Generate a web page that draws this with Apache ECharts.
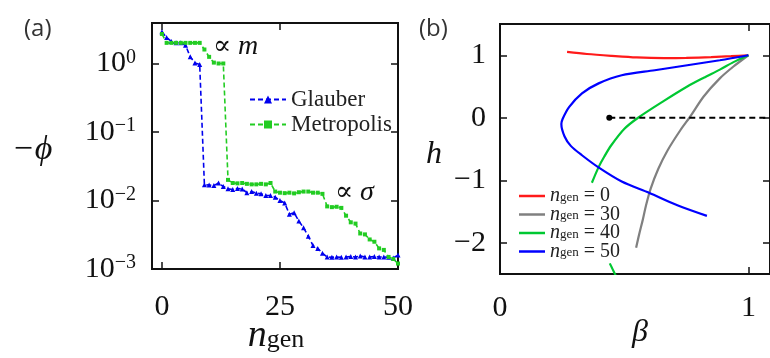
<!DOCTYPE html>
<html>
<head>
<meta charset="utf-8">
<script src="https://cdn.jsdelivr.net/npm/echarts@6/dist/echarts.min.js"></script>
<style>
  html, body { margin: 0; padding: 0; background: #fff; }
  #chart { width: 770px; height: 358px; }
</style>
</head>
<body>
<div id="chart"></div>
<script>
const SERIF = '"Liberation Serif", "DejaVu Serif", serif';
const SANS = '"Open Sans", "Noto Sans", sans-serif';
const INK = '#111';

// ---- panel (a): -phi against n_gen (log axis) ----
const nGen = [0, 1, 2, 3, 4, 5, 6, 7, 8, 9, 10, 11, 12, 13, 14, 15, 16, 17, 18, 19, 20,
  21, 22, 23, 24, 25, 26, 27, 28, 29, 30, 31, 32, 33, 34, 35, 36, 37, 38, 39, 40,
  41, 42, 43, 44, 45, 46, 47, 48, 49, 50];
const glauber = [2.9, 2.4, 2.1, 2.0, 2.0, 1.85, 1.25, 1.02, 0.97, 0.017,
  0.0168, 0.0165, 0.018, 0.016, 0.0148, 0.0145, 0.015, 0.0147, 0.013, 0.0135,
  0.0128, 0.0125, 0.0118, 0.0118, 0.0112, 0.0100, 0.0092, 0.0063, 0.0066, 0.0050,
  0.0040, 0.0030, 0.0022, 0.0020, 0.0017, 0.0015, 0.00148, 0.0015, 0.00148, 0.0015,
  0.00152, 0.0015, 0.00155, 0.0015, 0.0015, 0.00152, 0.0015, 0.0015, 0.00148, 0.00145,
  0.0016];
const metropolis = [2.7, 2.0, 2.0, 2.0, 2.0, 2.0, 2.0, 2.0, 2.0, 1.6,
  1.25, 1.03, 1.0, 1.0, 0.020, 0.018, 0.0178, 0.018, 0.0175, 0.0172,
  0.0172, 0.0175, 0.0172, 0.018, 0.0135, 0.013, 0.0128, 0.013, 0.0127, 0.0132,
  0.0135, 0.0135, 0.013, 0.013, 0.0125, 0.0082, 0.008, 0.0081, 0.0078, 0.0060,
  0.0048, 0.0046, 0.0033, 0.0032, 0.0027, 0.0025, 0.0020, 0.0019, 0.0015, 0.0014,
  0.0012];
const phiTicks = [0.001, 0.01, 0.1, 1];
const nTicks = [0, 25, 50];

// ---- panel (b): h against beta, one curve per n_gen ----
const curveN0 = [[0.27, 1.055], [0.35, 1.02], [0.45, 0.99], [0.55, 0.965], [0.66, 0.955],
  [0.75, 0.958], [0.85, 0.97], [0.93, 0.985], [1.0, 1.0]];
const curveN30 = [[1.0, 1.0], [0.94, 0.82], [0.885, 0.63], [0.82, 0.34], [0.766, 0.02],
  [0.726, -0.2], [0.675, -0.52], [0.637, -0.82], [0.607, -1.13], [0.588, -1.4],
  [0.575, -1.63], [0.56, -1.87], [0.548, -2.08]];
const curveN40 = [[1.0, 1.0], [0.94, 0.89], [0.885, 0.77], [0.82, 0.64], [0.754, 0.5],
  [0.66, 0.27], [0.556, 0.0], [0.5, -0.18], [0.448, -0.44], [0.42, -0.62],
  [0.397, -0.79], [0.37, -1.04]];
const curveN40low = [[0.442, -2.33], [0.47, -2.56]];
const curveN50 = [[1.0, 1.0], [0.885, 0.92], [0.754, 0.84], [0.623, 0.76], [0.49, 0.68],
  [0.397, 0.55], [0.33, 0.39], [0.278, 0.17], [0.252, -0.02], [0.247, -0.1],
  [0.26, -0.3], [0.285, -0.45], [0.33, -0.6], [0.395, -0.79], [0.49, -1.02],
  [0.6, -1.2], [0.714, -1.4], [0.833, -1.57]];
const zeroLine = [[0.44, 0.0], [1.2, 0.0]];
const hTicks = [-2, -1, 0, 1];
const betaTicks = [0, 1];

const legendB = { 'ngen0': '0', 'ngen30': '30', 'ngen40': '40', 'ngen50': '50' };

function supLabel(v) {
  const e = Math.round(Math.log10(v));
  return '{b|10}{s|' + (e < 0 ? '\u2212' + (-e) : e) + '}';
}

const tickLabel = { fontFamily: SERIF, fontSize: 30, color: INK };

function frameAxes(gridIndex, min, max, ticks, dim, logType) {
  // main axis with labels and its mirror (ticks only)
  const base = {
    gridIndex, min, max,
    type: logType ? 'log' : 'value',
    axisLine: { show: false, onZero: false },
    splitLine: { show: false },
    axisTick: { inside: true, length: 7, lineStyle: { color: INK, width: 1.5 }, customValues: ticks },
  };
  const mirror = Object.assign({}, base, {
    position: dim === 'x' ? 'top' : 'right',
    axisLabel: { show: false },
  });
  return [base, mirror];
}

const [xa, xaTop] = frameAxes(0, -2.1, 50, nTicks, 'x');
xa.axisLabel = Object.assign({ customValues: nTicks, margin: 23 }, tickLabel);
const [ya, yaRight] = frameAxes(0, 0.001, 3.9, phiTicks, 'y', true);
ya.axisLabel = {
  customValues: phiTicks, margin: 16, formatter: supLabel,
  rich: {
    b: Object.assign({ lineHeight: 32 }, tickLabel),
    s: { fontFamily: SERIF, fontSize: 20, lineHeight: 18, color: INK, verticalAlign: 'top' },
  },
};
const [xb, xbTop] = frameAxes(1, 0, 1.087, betaTicks, 'x');
xb.axisLabel = Object.assign({ customValues: betaTicks, margin: 19 }, tickLabel);
const [yb, ybRight] = frameAxes(1, -2.5, 1.5, hTicks, 'y');
yb.axisLabel = Object.assign({ customValues: hTicks, margin: 14,
  formatter: v => (v < 0 ? '\u2212' + (-v) : String(v)) }, tickLabel);

function dashed(name, values, color, symbol, size) {
  return {
    name, type: 'line', xAxisIndex: 0, yAxisIndex: 0,
    data: nGen.map((n, i) => [n, values[i]]),
    symbol, symbolSize: size, showSymbol: true,
    color,
    itemStyle: { color },
    lineStyle: { color, width: 1.6, type: [5, 3] },
  };
}

function curve(name, data, color) {
  return {
    name, type: 'line', xAxisIndex: 2, yAxisIndex: 2,
    data, smooth: 0.3, showSymbol: false, symbol: 'none',
    color, lineStyle: { color, width: 2.2 },
  };
}

const option = {
  animation: false,
  backgroundColor: '#fff',
  grid: [
    { left: 152, top: 23, width: 246, height: 246, show: true, borderColor: INK, borderWidth: 2, backgroundColor: 'transparent' },
    { left: 500, top: 24, width: 274, height: 250, show: true, borderColor: INK, borderWidth: 2, backgroundColor: 'transparent' },
  ],
  xAxis: [xa, xaTop, xb, xbTop],
  yAxis: [ya, yaRight, yb, ybRight],
  legend: [
    {
      data: ['Glauber', 'Metropolis'],
      orient: 'vertical', left: 244, top: 83,
      itemWidth: 36, itemHeight: 10, itemGap: 2, itemTextGap: 3,
      textStyle: { fontFamily: SERIF, fontSize: 23, color: '#222', lineHeight: 20 },
    },
    {
      data: ['ngen0', 'ngen30', 'ngen40', 'ngen50'],
      orient: 'vertical', left: 514, top: 181,
      icon: 'rect', itemWidth: 26, itemHeight: 2.5, itemGap: -1.5, itemTextGap: 3,
      formatter: name => '{i|n}{s|gen}{t| = ' + legendB[name] + '}',
      textStyle: {
        color: '#222',
        rich: {
          i: { fontFamily: SERIF, fontStyle: 'italic', fontSize: 20, lineHeight: 16, color: '#222' },
          s: { fontFamily: SERIF, fontSize: 13, lineHeight: 11, verticalAlign: 'bottom', color: '#222' },
          t: { fontFamily: SERIF, fontSize: 20, lineHeight: 16, color: '#222' },
        },
      },
    },
  ],
  series: [
    dashed('Glauber', glauber, '#0000ee', 'triangle', 5),
    dashed('Metropolis', metropolis, '#22cc22', 'rect', 4),
    curve('ngen0', curveN0, '#ff1a1a'),
    curve('ngen30', curveN30, '#808080'),
    curve('ngen40', curveN40, '#00c832'),
    Object.assign(curve('ngen40', curveN40low, '#00c832'), { smooth: false }),
    curve('ngen50', curveN50, '#0000ff'),
    {
      type: 'line', xAxisIndex: 2, yAxisIndex: 2,
      data: [{ value: zeroLine[0], symbol: 'circle', symbolSize: 6 }, { value: zeroLine[1], symbol: 'none' }],
      showSymbol: true, symbol: 'none',
      itemStyle: { color: '#000' },
      lineStyle: { color: '#000', width: 1.8, type: [6, 4] },
    },
  ],
  graphic: [
    { type: 'text', left: 24, top: 17, style: { text: '(a)', fontFamily: SANS, fontSize: 24, fill: '#333' } },
    { type: 'text', left: 419, top: 17, style: { text: '(b)', fontFamily: SANS, fontSize: 24, fill: '#333' } },
    { type: 'text', style: { text: '\u2212\u03d5', x: 32, y: 150, align: 'center', verticalAlign: 'middle',
        fontFamily: SERIF, fontStyle: 'italic', fontSize: 34, fill: INK } },
    { type: 'text', style: { text: '{n|n}{g|gen}', x: 276, y: 336, align: 'center', verticalAlign: 'middle',
        rich: {
          n: { fontFamily: SERIF, fontStyle: 'italic', fontSize: 38, lineHeight: 34, fill: INK },
          g: { fontFamily: SERIF, fontSize: 26, lineHeight: 22, verticalAlign: 'bottom', fill: INK },
        } } },
    { type: 'text', style: { text: 'h', x: 434, y: 155, align: 'center', verticalAlign: 'middle',
        fontFamily: SERIF, fontStyle: 'italic', fontSize: 32, fill: INK } },
    { type: 'text', style: { text: '\u03b2', x: 640, y: 333, align: 'center', verticalAlign: 'middle',
        fontFamily: SERIF, fontStyle: 'italic', fontSize: 32, fill: INK } },
    { type: 'text', style: { text: '{r|\u221d }{m|m}', x: 213, y: 47, align: 'left', verticalAlign: 'middle',
        rich: {
          r: { fontFamily: SERIF, fontSize: 27, fill: INK },
          m: { fontFamily: SERIF, fontStyle: 'italic', fontSize: 28, fill: INK },
        } } },
    { type: 'text', style: { text: '{r|\u221d }{m|\u03c3}', x: 335, y: 193, align: 'left', verticalAlign: 'middle',
        rich: {
          r: { fontFamily: SERIF, fontSize: 27, fill: INK },
          m: { fontFamily: SERIF, fontStyle: 'italic', fontSize: 28, fill: INK },
        } } },
  ],
};

const chart = echarts.init(document.getElementById('chart'));
chart.setOption(option);
</script>
</body>
</html>
